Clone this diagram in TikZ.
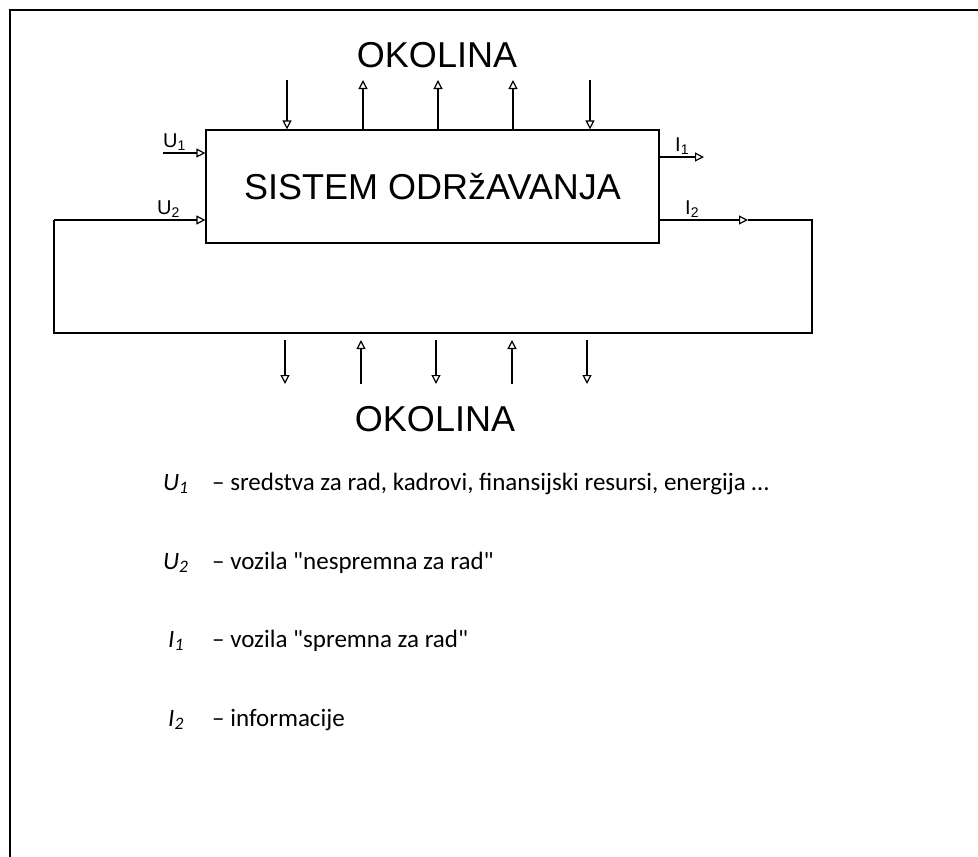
\documentclass[tikz,border=0pt]{standalone}
\usepackage{fontspec}
\setmainfont{Carlito}
\newfontfamily\scanfont{Liberation Sans}
\usepackage{tikz}
\usetikzlibrary{arrows.meta}

\tikzset{
  flow/.style={-{Triangle[open,length=9pt,width=9pt]}, line width=1.2pt},
  wire/.style={line width=1.2pt},
  okolina/.style={font=\scanfont\fontsize{36}{36}\selectfont},
  sig/.style={font=\scanfont\fontsize{20}{20}\selectfont, inner sep=1pt},
  legend/.style={anchor=base west, inner sep=0pt, font=\fontsize{25}{30}\selectfont}
}

\begin{document}
\begin{tikzpicture}[x=1pt, y=-1pt]
      \useasboundingbox (0,0) rectangle (978,857);
      % Draw the frame
      \coordinate (fl) at (10,857);
      \coordinate (fc) at (10,10);
      \coordinate (fr) at (978,10);
      \draw[line width=2pt] (fl) -- (fc) -- (fr);

      % Draw the system box
      \node[draw, line width=1.2pt, minimum width=453pt, minimum height=113pt,
        inner sep=0pt, font=\scanfont\fontsize{36}{36}\selectfont] (sys) at (432.5,186.5) {SISTEM ODRžAVANJA};

      % Draw the environment labels
      \node[okolina] (envtop) at (437,55) {OKOLINA};
      \node[okolina] (envbot) at (435,419) {OKOLINA};

      % Draw the inputs and outputs
      \coordinate (u1) at (163,153);
      \coordinate (i1) at (704,157);
      \coordinate (u2) at (54,220);
      \coordinate (i2m) at (748,220);
      \coordinate (i2r) at (812,220);
      \coordinate (loop) at (812,333);
      \draw[flow] (u1) -- (u1 -| sys.west);
      \draw[flow] (i1 -| sys.east) -- (i1);
      \draw[flow] (i2m -| sys.east) -- (i2m);
      \draw[wire] (i2m) -- (i2r) -- (loop) -| (u2);
      \draw[flow] (u2) -- (u2 -| sys.west);

      \node[sig, anchor=south west] (lu1) at (162,152) {U\textsubscript{1}};
      \node[sig, anchor=south west] (lu2) at (156,219) {U\textsubscript{2}};
      \node[sig, anchor=south west] (li1) at (674,156) {I\textsubscript{1}};
      \node[sig, anchor=south west] (li2) at (684,219) {I\textsubscript{2}};

      % Draw the arrows to and from the environment
      \foreach \x [count=\i] in {287,590} {
        \coordinate (td\i) at (\x,80);
        \draw[flow] (td\i) -- (td\i |- sys.north);
      }
      \foreach \x [count=\i] in {363,438,513} {
        \coordinate (tu\i) at (\x,80);
        \draw[flow] (tu\i |- sys.north) -- (tu\i);
      }
      \foreach \x [count=\i] in {285,436,587} {
        \coordinate (bd\i) at (\x,384);
        \draw[flow] (bd\i |- loop) ++(0,7) -- (bd\i);
      }
      \foreach \x [count=\i] in {361,512} {
        \coordinate (bu\i) at (\x,340);
        \draw[flow] (bu\i) ++(0,44) -- (bu\i);
      }

      % Draw the legend
      \node[legend] (k1) at (163,490) {\itshape U\textsubscript{1}};
      \node[legend] (t1) at (212,490) {– sredstva za rad, kadrovi, finansijski resursi, energija …};
      \node[legend] (k2) at (163,569) {\itshape U\textsubscript{2}};
      \node[legend] (t2) at (212,569) {– vozila \textquotedbl nespremna za rad\textquotedbl};
      \node[legend] (k3) at (168,647) {\itshape I\textsubscript{1}};
      \node[legend] (t3) at (212,647) {– vozila \textquotedbl spremna za rad\textquotedbl};
      \node[legend] (k4) at (168,726) {\itshape I\textsubscript{2}};
      \node[legend] (t4) at (212,726) {– informacije};
    \end{tikzpicture}
\end{document}
